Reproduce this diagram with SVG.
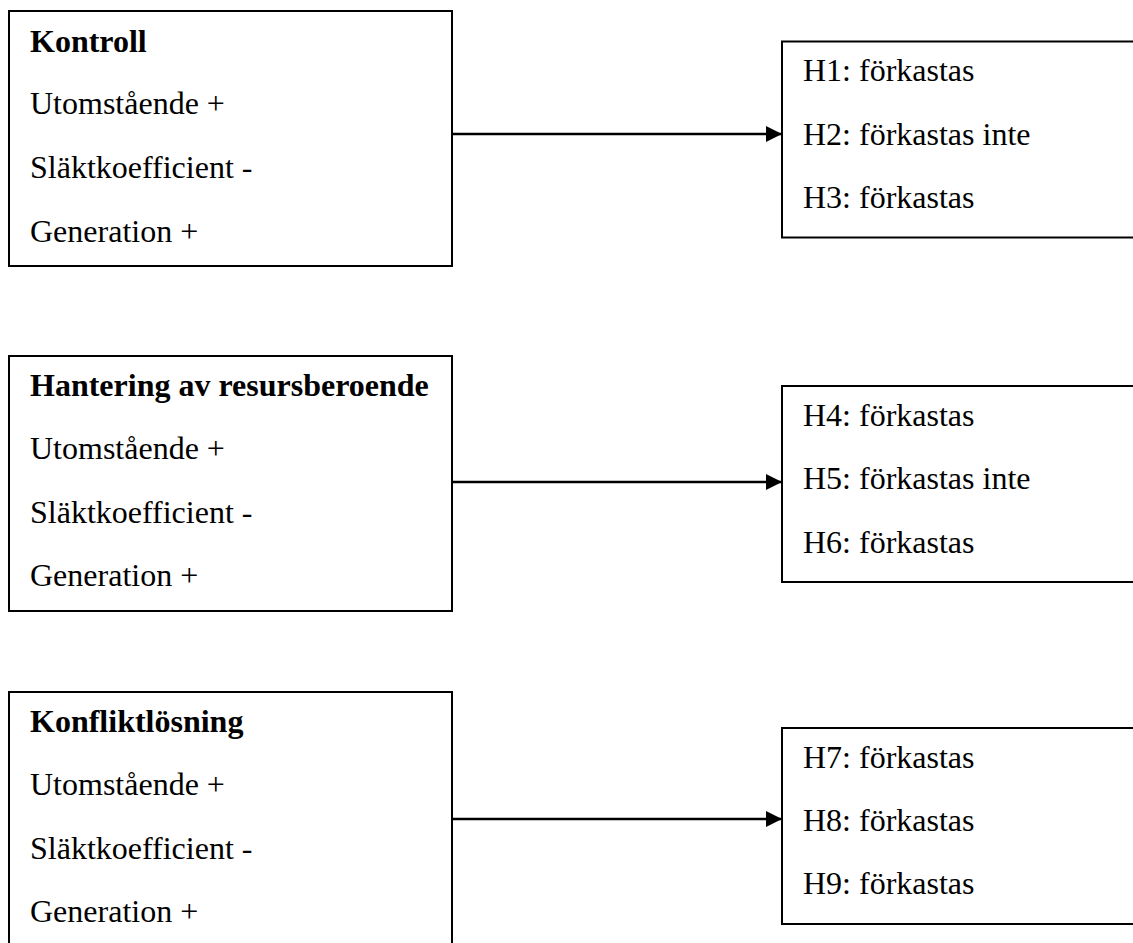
<svg xmlns="http://www.w3.org/2000/svg" width="1133" height="943" viewBox="0 0 1133 943">
<style>
  .box { fill: #ffffff; stroke: #000000; stroke-width: 2; }
  .t { font-family: "Liberation Serif", "Times New Roman", serif; font-size: 32px; fill: #000000; }
  .b { font-weight: bold; }
  .conn { stroke: #000000; stroke-width: 2.5; fill: none; }
</style>
<defs>
  <marker id="arrow" markerUnits="userSpaceOnUse" markerWidth="17" markerHeight="17" refX="16" refY="8.5" orient="auto">
    <path d="M0,0.5 L16,8.5 L0,16.5 Z" fill="#000000"/>
  </marker>
</defs>
<rect width="1133" height="943" fill="#ffffff"/>

<g id="kontroll">
  <rect class="box" x="9" y="11" width="443" height="255"/>
  <text class="t b" x="30" y="52">Kontroll</text>
  <text class="t" x="30" y="114">Utomstående +</text>
  <text class="t" x="30" y="178">Släktkoefficient -</text>
  <text class="t" x="30" y="242">Generation +</text>
</g>

<g id="hantering">
  <rect class="box" x="9" y="356" width="443" height="255"/>
  <text class="t b" x="30" y="396">Hantering av resursberoende</text>
  <text class="t" x="30" y="459">Utomstående +</text>
  <text class="t" x="30" y="523">Släktkoefficient -</text>
  <text class="t" x="30" y="586">Generation +</text>
</g>

<g id="konflikt">
  <rect class="box" x="9" y="692" width="443" height="280"/>
  <text class="t b" x="30" y="732">Konfliktlösning</text>
  <text class="t" x="30" y="795">Utomstående +</text>
  <text class="t" x="30" y="859">Släktkoefficient -</text>
  <text class="t" x="30" y="922">Generation +</text>
</g>

<g id="res1">
  <rect class="box" x="782" y="41.5" width="400" height="196"/>
  <text class="t" x="803" y="81">H1: förkastas</text>
  <text class="t" x="803" y="145">H2: förkastas inte</text>
  <text class="t" x="803" y="208">H3: förkastas</text>
</g>

<g id="res2">
  <rect class="box" x="782" y="386" width="400" height="196"/>
  <text class="t" x="803" y="426">H4: förkastas</text>
  <text class="t" x="803" y="489">H5: förkastas inte</text>
  <text class="t" x="803" y="553">H6: förkastas</text>
</g>

<g id="res3">
  <rect class="box" x="782" y="728" width="400" height="196"/>
  <text class="t" x="803" y="768">H7: förkastas</text>
  <text class="t" x="803" y="831">H8: förkastas</text>
  <text class="t" x="803" y="894">H9: förkastas</text>
</g>

<g id="connectors">
  <line class="conn" x1="452" y1="134" x2="782" y2="134" marker-end="url(#arrow)"/>
  <line class="conn" x1="452" y1="482" x2="782" y2="482" marker-end="url(#arrow)"/>
  <line class="conn" x1="452" y1="819" x2="782" y2="819" marker-end="url(#arrow)"/>
</g>
</svg>
